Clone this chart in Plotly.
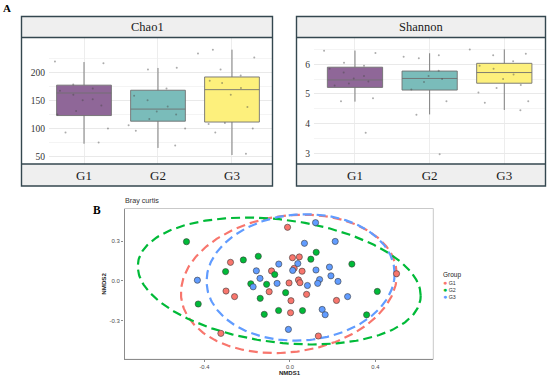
import numpy as np
import plotly.graph_objects as go

W, H = 550, 377

# ---------------- data: panel A (alpha diversity) ----------------
groups = ["G1", "G2", "G3"]
box_colors = ["#8f6798", "#7abcba", "#fdf07c"]

chao1_q1 = [123, 113, 111.5]
chao1_median = [163, 134.5, 169]
chao1_q3 = [177, 168, 191.5]
chao1_low = [73, 65.5, 53]
chao1_high = [218, 207.5, 240]
chao1_ticks = [50, 100, 150, 200]
chao1_minor = [75, 125, 175, 225]
chao1_samples_G1 = [219, 216, 178, 171, 167, 160, 152, 150, 141, 131, 125, 100, 93, 75]
chao1_samples_G2 = [208, 205, 171, 158, 150, 139, 130, 125, 117, 106, 100, 96, 70]
chao1_samples_G3 = [240, 233, 226, 205, 194, 185, 181, 172, 160, 138, 110, 108, 100, 93, 55]

shannon_q1 = [5.22, 5.13, 5.36]
shannon_median = [5.47, 5.52, 5.72]
shannon_q3 = [5.90, 5.77, 6.03]
shannon_low = [4.74, 4.31, 4.46]
shannon_high = [6.46, 6.37, 6.50]
shannon_ticks = [3, 4, 5, 6]
shannon_minor = [3.5, 4.5, 5.5, 6.5]
shannon_samples_G1 = [6.45, 6.38, 6.05, 5.95, 5.85, 5.72, 5.6, 5.52, 5.42, 5.35, 5.28, 4.85, 4.75, 3.69]
shannon_samples_G2 = [6.3, 6.25, 6.2, 5.78, 5.6, 5.5, 5.4, 5.15, 4.75, 4.3, 2.97]
shannon_samples_G3 = [6.5, 6.35, 6.3, 6.1, 5.95, 5.85, 5.65, 5.5, 5.3, 5.2, 5.05, 4.75, 4.7, 4.45]

# ---------------- data: panel B (NMDS, Bray curtis) ----------------
group_colors = ["#F8766D", "#00BA38", "#619CFF"]
nmds1_G1 = [-0.011, -0.278, 0.012, 0.044, 0.020, -0.086, 0.057, 0.040, 0.047, -0.004,
            -0.097, -0.299, -0.259, 0.078, 0.005, 0.218, 0.003, -0.323, 0.133, 0.499]
nmds2_G1 = [0.406, 0.141, 0.176, 0.182, 0.096, 0.076, 0.074, 0.008, -0.013, -0.015,
            -0.081, -0.076, -0.118, -0.101, -0.149, -0.147, -0.240, -0.396, -0.416, 0.055]
nmds1_G2 = [-0.484, -0.148, -0.218, -0.301, -0.071, 0.098, 0.123, 0.290, -0.183, -0.109,
            -0.020, -0.139, -0.429, -0.120, -0.053, 0.059, 0.359, 0.409]
nmds2_G2 = [0.297, 0.187, 0.159, 0.071, 0.049, 0.165, 0.217, 0.128, -0.021, -0.025,
            -0.088, -0.131, -0.174, -0.252, -0.223, -0.224, -0.256, -0.079]
nmds1_G3 = [0.120, 0.068, 0.212, -0.052, 0.037, 0.013, -0.157, 0.122, 0.185, -0.140, 0.192,
            0.139, 0.130, 0.225, 0.082, -0.060, -0.172, -0.433, 0.270, 0.151, 0.165, -0.007]
nmds2_G3 = [0.441, 0.285, 0.299, 0.128, 0.132, 0.080, 0.077, 0.083, 0.105, 0.020, 0.039,
            0.011, -0.018, -0.003, -0.034, -0.018, -0.044, 0.006, -0.118, -0.215, -0.255, -0.366]

# confidence ellipses (center, half extents, correlation) per group
ellipse_cx = [-0.005, -0.05, 0.05]
ellipse_cy = [-0.022, 0.0, 0.027]
ellipse_sx = [0.505, 0.662, 0.44]
ellipse_sy = [0.523, 0.48, 0.478]
ellipse_rho = [0.13, -0.23, 0.06]

nmds1_ticks = [-0.4, 0.0, 0.4]
nmds2_ticks = [-0.3, 0.0, 0.3]

# ---------------- layout helpers ----------------
def px_x(v):
    return v / W

def px_y(v):
    return 1 - v / H

SERIF = "Liberation Serif, Times New Roman, serif"
SANS = "Liberation Sans, Arial, sans-serif"

fig = go.Figure()

chao_samples = [chao1_samples_G1, chao1_samples_G2, chao1_samples_G3]
shan_samples = [shannon_samples_G1, shannon_samples_G2, shannon_samples_G3]

for (xa, ya, q1, med, q3, lo, hi, samples) in [
    ("x", "y", chao1_q1, chao1_median, chao1_q3, chao1_low, chao1_high, chao_samples),
    ("x2", "y2", shannon_q1, shannon_median, shannon_q3, shannon_low, shannon_high, shan_samples),
]:
    for i, g in enumerate(groups):
        fig.add_trace(go.Box(
            x=[g], q1=[q1[i]], median=[med[i]], q3=[q3[i]],
            lowerfence=[lo[i]], upperfence=[hi[i]],
            fillcolor=box_colors[i], line=dict(color="#707070", width=0.9),
            whiskerwidth=0, width=0.74, boxpoints=False,
            xaxis=xa, yaxis=ya, showlegend=False, name=g,
        ))
    for i, g in enumerate(groups):
        fig.add_trace(go.Box(
            x=[g] * len(samples[i]), y=samples[i],
            boxpoints="all", jitter=1.0, pointpos=0, width=0.95,
            fillcolor="rgba(0,0,0,0)", line=dict(color="rgba(0,0,0,0)", width=0),
            marker=dict(color="rgba(70,70,70,0.45)", size=2),
            xaxis=xa, yaxis=ya, showlegend=False, name=g,
        ))

# panel B: ellipses then points
t = np.linspace(0, 2 * np.pi, 241)
for i, g in enumerate(groups):
    ex = ellipse_cx[i] + ellipse_sx[i] * np.cos(t)
    ey = ellipse_cy[i] + ellipse_sy[i] * (ellipse_rho[i] * np.cos(t)
                                          + np.sqrt(1 - ellipse_rho[i] ** 2) * np.sin(t))
    fig.add_trace(go.Scatter(
        x=ex, y=ey, mode="lines", xaxis="x3", yaxis="y3",
        line=dict(color=group_colors[i], width=2.2, dash="9px,5px"),
        showlegend=False, hoverinfo="skip",
    ))

pts = [(nmds1_G1, nmds2_G1), (nmds1_G2, nmds2_G2), (nmds1_G3, nmds2_G3)]
for i, g in enumerate(groups):
    fig.add_trace(go.Scatter(
        x=pts[i][0], y=pts[i][1], mode="markers", xaxis="x3", yaxis="y3",
        marker=dict(color=group_colors[i], size=6.2, line=dict(color="#3a3a3a", width=0.6)),
        name=g, showlegend=False,
    ))

# ---------------- axes ----------------
yA = [px_y(164), px_y(37.5)]
common_cat = dict(type="category", categoryorder="array", categoryarray=groups,
                  showgrid=True, gridcolor="#ededed", gridwidth=0.8, zeroline=False,
                  ticks="", showline=False, ticklabelstandoff=2,
                  tickfont=dict(family=SERIF, size=13, color="#1a1a1a"))
common_yA = dict(showgrid=True, gridcolor="#e9e9e9", gridwidth=0.8, zeroline=False,
                 ticks="", showline=False, ticklabelstandoff=3,
                 tickfont=dict(family=SERIF, size=9.5, color="#333333"))

fig.update_layout(
    xaxis=dict(domain=[px_x(49), px_x(271.5)], range=[-0.473, 2.534], anchor="y", **common_cat),
    yaxis=dict(domain=yA, range=[37, 261.6], anchor="x", tickmode="array", tickvals=chao1_ticks,
               minor=dict(tickmode="array", tickvals=chao1_minor, showgrid=True, gridcolor="#f4f4f4"),
               **common_yA),
    xaxis2=dict(domain=[px_x(314), px_x(545.5)], range=[-0.549, 2.552], anchor="y2", **common_cat),
    yaxis2=dict(domain=yA, range=[2.64, 6.90], anchor="x2", tickmode="array", tickvals=shannon_ticks,
                minor=dict(tickmode="array", tickvals=shannon_minor, showgrid=True, gridcolor="#f4f4f4"),
                **common_yA),
    xaxis3=dict(domain=[px_x(124.5), px_x(433.3)], range=[-0.774, 0.671], anchor="y3",
                showgrid=False, zeroline=False, showline=True, linecolor="#8c8c8c", linewidth=1.1,
                ticks="outside", ticklen=2, tickwidth=0.8, tickcolor="#8c8c8c",
                tickmode="array", tickvals=nmds1_ticks, ticktext=["-0.4", "0.0", "0.4"],
                tickfont=dict(family=SANS, size=5.8, color="#4d4d4d")),
    yaxis3=dict(domain=[px_y(359.3), px_y(208.5)], range=[-0.592, 0.548], anchor="x3",
                showgrid=False, zeroline=False, showline=True, linecolor="#8c8c8c", linewidth=1.1,
                ticks="outside", ticklen=2.5, tickwidth=0.8, tickcolor="#8c8c8c",
                tickmode="array", tickvals=nmds2_ticks, ticktext=["-0.3", "0.0", "0.3"],
                tickfont=dict(family=SANS, size=6, color="#4d4d4d"),
                title=dict(text="<b>NMDS2</b>", font=dict(family=SANS, size=6.2, color="#222"), standoff=2)),
)

# ---------------- strips / frames ----------------
shapes = []
border = "#34474f"
for (x0, x1) in [(21.5, 272.5), (296.5, 545.5)]:
    for (y0, y1) in [(16.5, 37.5), (164, 186)]:
        shapes.append(dict(type="rect", xref="paper", yref="paper",
                           x0=px_x(x0), x1=px_x(x1), y0=px_y(y1), y1=px_y(y0),
                           fillcolor="#efefef", line=dict(width=0), layer="below"))
    shapes.append(dict(type="rect", xref="paper", yref="paper",
                       x0=px_x(x0), x1=px_x(x1), y0=px_y(186), y1=px_y(16.5),
                       line=dict(color=border, width=1.4), layer="above"))
    for yy in (37.5, 164):
        shapes.append(dict(type="line", xref="paper", yref="paper",
                           x0=px_x(x0), x1=px_x(x1), y0=px_y(yy), y1=px_y(yy),
                           line=dict(color=border, width=1.4), layer="above"))
shapes.append(dict(type="rect", xref="x3 domain", yref="y3 domain", x0=0, x1=1, y0=0, y1=1,
                   line=dict(color="#c9c9c9", width=1), layer="below"))

legend_lines = "<br>".join(
    "<span style='color:%s;font-size:7px'>●</span> %s" % (group_colors[i], g)
    for i, g in enumerate(groups))

annotations = [
    dict(text="Chao1", x=px_x(147), y=px_y(27), xref="paper", yref="paper", showarrow=False,
         font=dict(family=SERIF, size=12.5, color="#1a1a1a"), xanchor="center", yanchor="middle"),
    dict(text="Shannon", x=px_x(421), y=px_y(27), xref="paper", yref="paper", showarrow=False,
         font=dict(family=SERIF, size=12.5, color="#1a1a1a"), xanchor="center", yanchor="middle"),
    dict(text="<b>A</b>", x=px_x(6.5), y=px_y(8), xref="paper", yref="paper", showarrow=False,
         font=dict(family=SERIF, size=11, color="#000"), xanchor="center", yanchor="middle"),
    dict(text="<b>B</b>", x=px_x(97), y=px_y(210), xref="paper", yref="paper", showarrow=False,
         font=dict(family=SERIF, size=11.5, color="#000"), xanchor="center", yanchor="middle"),
    dict(text="Bray curtis", x=px_x(123), y=px_y(200.5), xref="paper", yref="paper", showarrow=False,
         font=dict(family=SANS, size=7.2, color="#333"), xanchor="left", yanchor="middle"),
    dict(text="<b>NMDS1</b>", x=px_x(290), y=px_y(373.3), xref="paper", yref="paper", showarrow=False,
         font=dict(family=SANS, size=6, color="#222"), xanchor="center", yanchor="middle"),
    dict(text="Group", x=px_x(440.5), y=px_y(274.5), xref="paper", yref="paper", showarrow=False,
         font=dict(family=SANS, size=6.5, color="#222"), xanchor="left", yanchor="middle"),
    dict(text=legend_lines, x=px_x(441), y=px_y(289), xref="paper", yref="paper", showarrow=False,
         font=dict(family=SANS, size=5.3, color="#333"), xanchor="left", yanchor="middle", align="left"),
]

fig.update_layout(
    width=W, height=H, autosize=False,
    margin=dict(l=0, r=0, t=0, b=0),
    paper_bgcolor="white", plot_bgcolor="white",
    shapes=shapes, annotations=annotations,
    showlegend=False, boxmode="overlay",
)

fig.write_html("out.html", config={"displayModeBar": False},
               post_script="document.body.style.margin='0';")
